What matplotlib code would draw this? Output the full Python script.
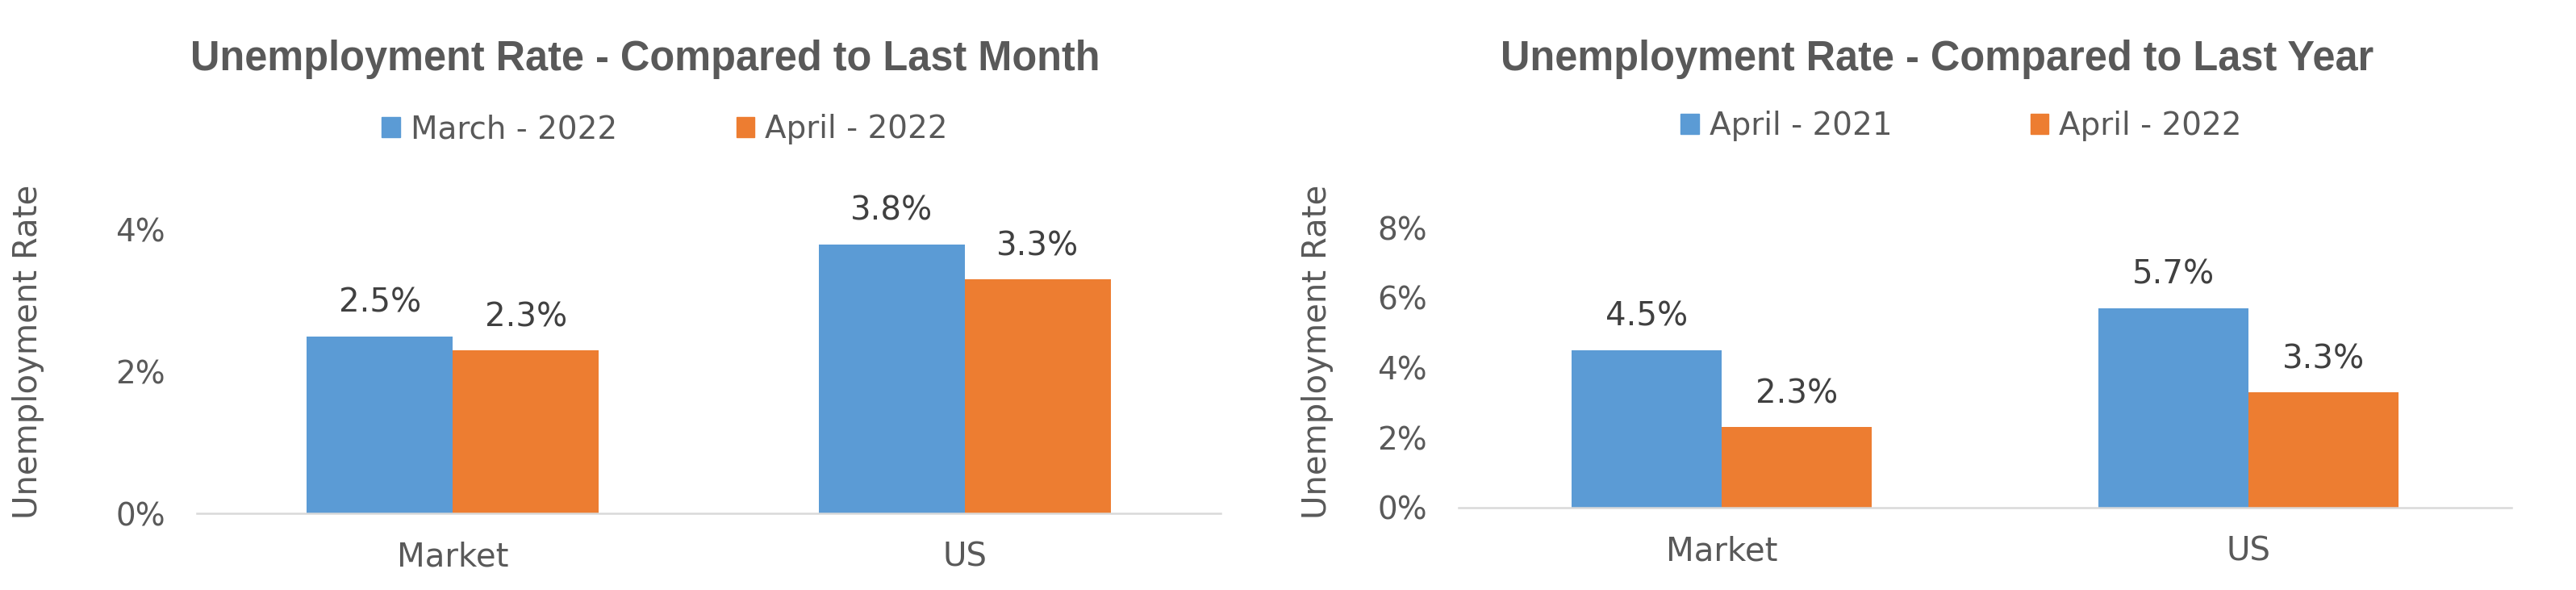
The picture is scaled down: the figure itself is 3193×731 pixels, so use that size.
import matplotlib
matplotlib.use("Agg")
import matplotlib.pyplot as plt
from matplotlib.patches import Patch

categories = ["Market", "US"]

month_titles = "Unemployment Rate - Compared to Last Month"
month_series = ["March - 2022", "April - 2022"]
month_prev = [2.5, 3.8]
month_curr = [2.3, 3.3]
month_ticks = [0, 2, 4]

year_titles = "Unemployment Rate - Compared to Last Year"
year_series = ["April - 2021", "April - 2022"]
year_prev = [4.5, 5.7]
year_curr = [2.3, 3.3]
year_ticks = [0, 2, 4, 6, 8]

BLUE = "#5B9BD5"
ORANGE = "#ED7D31"
GREY = "#595959"

plt.rcParams.update({"font.family": "DejaVu Sans", "font.size": 28})

W, H = 3193, 731
fig = plt.figure(figsize=(W / 100, H / 100), dpi=100)


def px(x0, y0, x1, y1):
    # pixel box -> figure fraction [left, bottom, width, height]
    return [x0 / W, 1 - y1 / H, (x1 - x0) / W, (y1 - y0) / H]


def draw_panel(box, prev, curr, ticks, title, title_x, series, leg_x, leg_y, colsp, ylab_x):
    ax = fig.add_axes(px(*box))
    x = list(range(len(categories)))
    w = 0.285
    b1 = ax.bar([i - w / 2 for i in x], prev, w, color=BLUE, label=series[0])
    b2 = ax.bar([i + w / 2 for i in x], curr, w, color=ORANGE, label=series[1])
    for b in (b1, b2):
        ax.bar_label(b, labels=[f"{v:.1f}%" for v in b.datavalues], padding=15,
                     color="#404040", fontsize=29)
    ax.set_xlim(-0.5, len(categories) - 0.5)
    ax.set_ylim(0, ticks[-1])
    ax.set_yticks(ticks)
    ax.set_yticklabels([f"{t}%" for t in ticks])
    ax.set_xticks(x)
    ax.set_xticklabels(categories)
    ax.tick_params(axis="y", length=0, pad=28, colors=GREY, labelsize=28)
    ax.tick_params(axis="x", length=0, pad=25, colors=GREY, labelsize=29)
    for s in ("top", "right", "left"):
        ax.spines[s].set_visible(False)
    ax.spines["bottom"].set_color("#D9D9D9")
    ax.spines["bottom"].set_linewidth(1.8)

    fig.text(ylab_x / W, 1 - 436 / H, "Unemployment Rate", rotation=90,
             ha="center", va="center", color=GREY, fontsize=29)
    fig.text(title_x / W, 1 - 87 / H, title, ha="center", va="baseline",
             family="Liberation Sans", weight="bold", fontsize=36.4, color=GREY)

    handles = [Patch(color=BLUE), Patch(color=ORANGE)]
    fig.legend(handles, series, loc="center", bbox_to_anchor=(leg_x / W, 1 - leg_y / H),
               ncol=2, frameon=False, fontsize=28, labelcolor=GREY,
               handlelength=0.58, handleheight=0.6, handletextpad=0.34,
               columnspacing=colsp, borderpad=0, borderaxespad=0)


draw_panel((244, 285, 1513, 636), month_prev, month_curr, month_ticks,
           month_titles, 800, month_series, 824, 160, 3.8, 35)
draw_panel((1808, 282, 3113, 629), year_prev, year_curr, year_ticks,
           year_titles, 2401, year_series, 2431, 156, 4.4, 1633)

fig.savefig("out.png", dpi=100, facecolor="white")
